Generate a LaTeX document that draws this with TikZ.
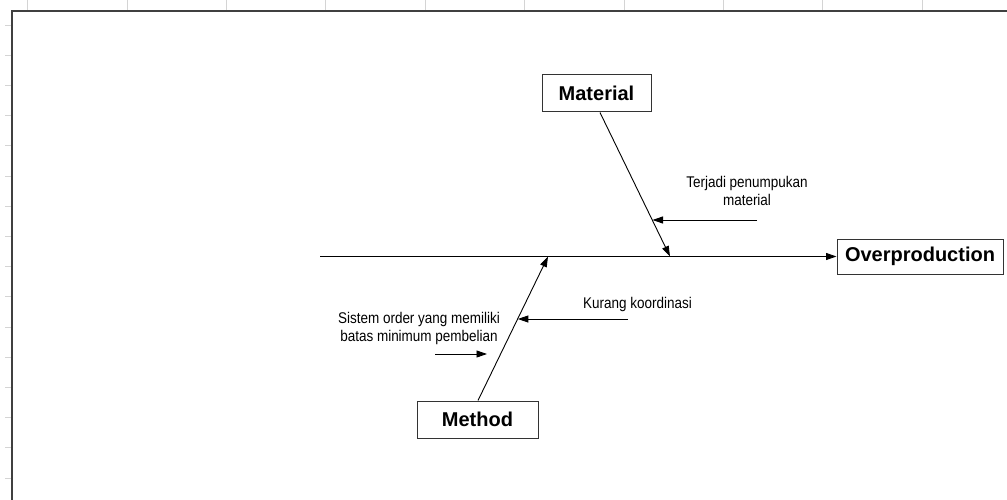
\documentclass[tikz,border=0pt]{standalone}
\usepackage{fontspec}
\setmainfont{Liberation Sans}
\newfontfamily\narrowfont[FakeStretch=0.87]{Liberation Sans}
\usetikzlibrary{arrows.meta,calc}
\definecolor{framegray}{HTML}{404040}
\definecolor{gridgray}{HTML}{D4D4D4}
\definecolor{boxgray}{HTML}{333333}
\tikzset{
  catbox/.style={draw=boxgray, line width=1pt, fill=white, inner sep=0pt,
    font=\fontsize{20}{24}\selectfont\bfseries, minimum height=37pt},
  note/.style={inner sep=0pt, align=center, font=\narrowfont\fontsize{15.5}{18}\selectfont},
  bone/.style={draw=black, line width=0.9pt},
  arr/.style={bone, -{Triangle[length=10.5pt,width=7pt]}},
  tick/.style={draw=gridgray, line width=0.8pt},
  frame/.style={draw=framegray, line width=1.6pt}
}
\begin{document}
\begin{tikzpicture}[x=1pt,y=-1pt]
\useasboundingbox (0,0) rectangle (1007,500);
% spreadsheet grid ticks
\foreach \k in {0,...,9} { \draw[tick] ({27.6+99.4*\k},0) -- ({27.6+99.4*\k},11); }
\foreach \k in {0,...,15} { \draw[tick] (5,{25+30.2*\k}) -- (12,{25+30.2*\k}); }
% frame
\draw[frame] (12,500) -- (12,11) -- (1007,11);

% category boxes
\node[catbox, minimum width=109pt] (mat) at (596.5,93.5) {Material};
\node[catbox, minimum width=121pt] (meth) at (477.5,419.5) {Method};
\node[catbox, minimum width=166pt, minimum height=35pt] (over) at (920,256.5) {Overproduction};

% spine
\coordinate (spineL) at (320,256.5);
\coordinate (matEnd) at (670,256.5);
\coordinate (methEnd) at (548,256.5);
\draw[arr] (spineL) -- (over.west);

% bones
\coordinate (matStart) at ([xshift=3.5pt]mat.south);
\coordinate (methStart) at ([xshift=0.5pt]meth.north);
\draw[arr] (matStart) -- (matEnd);
\draw[arr] (methStart) -- (methEnd);

% cause texts
\node[note] (t1) at (747,190.9) {Terjadi penumpukan\\material};
\node[note, anchor=base] (t2) at (637.5,308) {Kurang koordinasi};
\node[note] (t3) at (419,328.9) {Sistem order yang memiliki\\batas minimum pembelian};

% cause arrows
\coordinate (a1s) at (757,220);
\coordinate (a1e) at ($(matStart)!0.75!(matEnd)$);
\draw[arr] (a1s) -- (a1e |- a1s);
\coordinate (a2s) at (628,319);
\coordinate (a2e) at ($(methStart)!0.569!(methEnd)$);
\draw[arr] (a2s) -- (a2e |- a2s);
\coordinate (a3s) at (435,354);
\coordinate (a3e) at (487,354);
\draw[arr] (a3s) -- (a3e);
\end{tikzpicture}
\end{document}
